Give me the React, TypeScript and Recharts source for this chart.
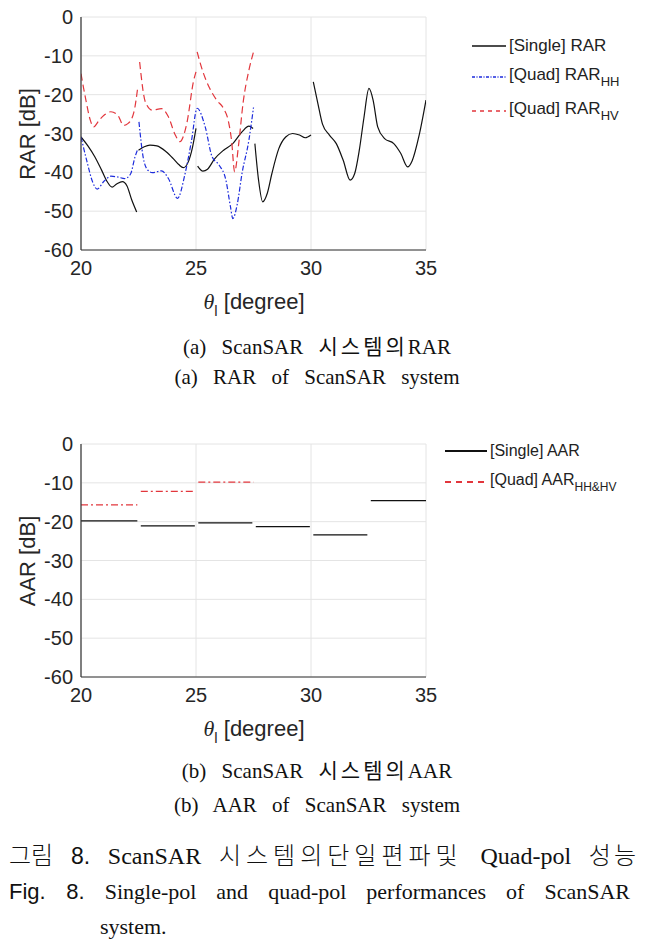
import React from 'react'
import { LineChart, Line, XAxis, YAxis, CartesianGrid } from 'recharts'

// 공통 축 눈금
const thetaTicks = [20, 25, 30, 35]
const dbTicks = [0, -10, -20, -30, -40, -50, -60]

// (a) RAR — null은 구간 단절
const rarSingleTheta = [
  20, 20.3, 20.6, 20.9, 21.15, 21.35, 21.55, 21.8, 22.0, 22.2, 22.42, 22.46,
  22.5, 22.75, 23.0, 23.3, 23.7, 24.0, 24.25, 24.45, 24.65, 24.85, 25.0, 25.03,
  25.07, 25.3, 25.5, 25.8, 26.2, 26.6, 27.0, 27.3, 27.48, 27.52,
  27.56, 27.72, 27.9, 28.1, 28.3, 28.6, 28.9, 29.2, 29.5, 29.75, 30.0, 30.05,
  30.1, 30.3, 30.5, 30.8, 31.1, 31.4, 31.7, 31.9, 32.1, 32.3, 32.52, 32.7, 32.9,
  33.2, 33.6, 33.9, 34.2, 34.4, 34.7, 35.0,
]
const rarSingle = [
  -30.9, -33.2, -36, -39.5, -42.5, -43.8, -43, -42.4, -43.5, -47, -50.2, null,
  -34.3, -33.4, -33, -33.2, -34.7, -36.4, -38, -38.8, -37.5, -33.5, -28.7, null,
  -38.4, -39.7, -39.2, -36.6, -34.3, -32.6, -29.6, -28.1, -28.7, null,
  -32.6, -42, -47.6, -45.4, -40.3, -33.9, -30.9, -30, -30.4, -31.1, -30.4, null,
  -16.7, -22.3, -27.6, -30.4, -32.6, -36.9, -42, -40.3, -34.3, -26, -18.4, -21.4, -28.3,
  -31.3, -32.6, -35.1, -38.6, -37, -30.5, -21.4,
]

const rarHHTheta = [
  20, 20.25, 20.5, 20.7, 21.0, 21.3, 21.6, 21.9, 22.15, 22.35, 22.45, 22.48,
  22.52, 22.7, 22.9, 23.1, 23.5, 23.8, 24.2, 24.5, 24.8, 25.05, 25.4, 25.7,
  26.0, 26.3, 26.5, 26.6, 26.8, 27.0, 27.3, 27.5,
]
const rarHH = [
  -30.9, -37, -42.4, -44.3, -42.3, -41, -41.2, -41.6, -40.5, -36, -34.3, null,
  -27, -36, -39.4, -40.1, -39.6, -41.6, -46.7, -41, -32, -23.5, -28.3, -36,
  -38.1, -42, -48.9, -51.9, -48, -40.3, -31.7, -23.3,
]

const rarHVTheta = [
  20, 20.2, 20.4, 20.55, 20.8, 21.0, 21.3, 21.6, 21.85, 22.05, 22.3, 22.47, 22.5,
  22.55, 22.8, 23.1, 23.5, 23.8, 24.1, 24.3, 24.6, 24.9, 25.0, 25.02,
  25.05, 25.3, 25.6, 25.9, 26.2, 26.4, 26.55, 26.68, 26.85, 27.05, 27.3, 27.5,
]
const rarHV = [
  -14.6, -21, -26.5, -28.3, -26.5, -25.3, -24.4, -25.3, -27.9, -27.4, -24.5, -18, null,
  -11.6, -21.9, -24, -23.6, -25.7, -30.4, -32.1, -27.4, -16.3, -14.1, null,
  -9, -14.1, -18.4, -21.4, -23.6, -26.6, -32, -39.9, -33, -22, -13.7, -9,
]

// (b) AAR — 빔별 평균값
const aarSingleTheta = [
  20, 22.45, 22.5, 22.6, 24.95, 25, 25.1, 27.45, 27.5, 27.6, 29.95, 30,
  30.1, 32.45, 32.5, 32.6, 35,
]
const aarSingle = [
  -19.8, -19.8, null, -21.1, -21.1, null, -20.3, -20.3, null, -21.3, -21.3, null,
  -23.4, -23.4, null, -14.6, -14.6,
]

const aarQuadTheta = [20, 22.45, 22.5, 22.6, 24.95, 25, 25.1, 27.5]
const aarQuad = [-15.7, -15.7, null, -12.2, -12.2, null, -9.8, -9.8]

const toRows = (theta: number[], db: (number | null)[]) =>
  theta.map((t, i) => ({ t, v: db[i] }))

const SANS = '"Liberation Sans", Arial, sans-serif'
const SERIF = '"Liberation Serif", "Times New Roman", "Noto Sans CJK KR", serif'
const KR = '"Noto Sans CJK KR", sans-serif'
const BLACK = '#111'
const BLUE = '#1c2bdc'
const RED = '#e2363c'

const tickStyle = { fontSize: 20, fill: '#262626', fontFamily: SANS }

function ThetaTitle({ x, y }: { x: number; y: number }) {
  return (
    <text x={x} y={y} textAnchor="middle" fontSize={22} fill="#262626" fontFamily={SANS}>
      <tspan fontFamily={SERIF} fontStyle="italic">θ</tspan>
      <tspan fontSize={15} dy={7}>l</tspan>
      <tspan dy={-7}> [degree]</tspan>
    </text>
  )
}

function YTitle({ x, y, text }: { x: number; y: number; text: string }) {
  return (
    <text
      x={x}
      y={y}
      transform={`rotate(-90 ${x} ${y})`}
      textAnchor="middle"
      dominantBaseline="central"
      fontSize={22}
      fill="#262626"
      fontFamily={SANS}
    >
      {text}
    </text>
  )
}

type LegendItem = { label: string; sub?: string; color: string; dash?: string; width?: number; y: number }

function LegendBox({ items, left, lineLen, fontSize }: { items: LegendItem[]; left: number; lineLen: number; fontSize: number }) {
  return (
    <>
      {items.map((it) => (
        <div
          key={it.label + (it.sub || '')}
          style={{
            position: 'absolute', left, top: it.y - 12, height: 24,
            display: 'flex', alignItems: 'center',
            fontFamily: SANS, fontSize, color: '#222', whiteSpace: 'nowrap',
          }}
        >
          <svg width={lineLen} height={24} style={{ marginRight: 3 }}>
            <line x1={0} y1={12} x2={lineLen} y2={12} stroke={it.color}
              strokeWidth={it.width || 1.6} strokeDasharray={it.dash} />
          </svg>
          <span>
            {it.label}
            {it.sub && <sub style={{ fontSize: fontSize - 4, verticalAlign: -6 }}>{it.sub}</sub>}
          </span>
        </div>
      ))}
    </>
  )
}

function Plot({ top, ytitle, lines }: { top: number; ytitle: string; lines: React.ReactNode }) {
  return (
    <div style={{ position: 'absolute', left: 0, top }}>
      <LineChart width={650} height={325} margin={{ top: 17, right: 224, left: 0, bottom: 0 }}>
        <CartesianGrid stroke="#e4e4e4" strokeWidth={1} />
        <XAxis
          type="number"
          dataKey="t"
          domain={[20, 35]}
          ticks={thetaTicks}
          allowDataOverflow
          height={75}
          tickLine={false}
          tickMargin={5}
          tick={tickStyle}
          axisLine={{ stroke: '#333', strokeWidth: 1.2 }}
        />
        <YAxis
          type="number"
          domain={[-60, 0]}
          ticks={dbTicks}
          allowDataOverflow
          width={81}
          tickLine={false}
          tick={tickStyle}
          axisLine={{ stroke: '#333', strokeWidth: 1.2 }}
        />
        {lines}
        <ThetaTitle x={254} y={309} />
        <YTitle x={27} y={134} text={ytitle} />
      </LineChart>
    </div>
  )
}

export default function App() {
  const lineProps = { dataKey: 'v', dot: false, isAnimationActive: false, connectNulls: false, activeDot: false }

  const rarLines = [
    <Line key="s" {...lineProps} data={toRows(rarSingleTheta, rarSingle)} type="monotone" stroke={BLACK} strokeWidth={1.2} />,
    <Line key="hh" {...lineProps} data={toRows(rarHHTheta, rarHH)} type="monotone" stroke={BLUE} strokeWidth={1.2} strokeDasharray="5 2 1.5 2" />,
    <Line key="hv" {...lineProps} data={toRows(rarHVTheta, rarHV)} type="monotone" stroke={RED} strokeWidth={1.2} strokeDasharray="7 4" />,
  ]
  const aarLines = [
    <Line key="s" {...lineProps} data={toRows(aarSingleTheta, aarSingle)} type="linear" stroke={BLACK} strokeWidth={1.2} />,
    <Line key="q" {...lineProps} data={toRows(aarQuadTheta, aarQuad)} type="linear" stroke={RED} strokeWidth={1.2} strokeDasharray="7 3 2 3" />,
  ]

  const capStyle: React.CSSProperties = {
    position: 'absolute', left: 0, width: 634, textAlign: 'center',
    fontFamily: SERIF, fontSize: 21, color: '#111', wordSpacing: 10, lineHeight: '24px',
  }
  const krCap: React.CSSProperties = { letterSpacing: 3 }
  const figLine: React.CSSProperties = {
    position: 'absolute', left: 9, fontFamily: SERIF, color: '#111',
    textAlign: 'justify', textAlignLast: 'justify', lineHeight: '28px', whiteSpace: 'nowrap',
  }

  return (
    <div style={{ position: 'absolute', left: 0, top: 0, width: 650, height: 948, background: '#fff', overflow: 'hidden' }}>
      <Plot top={0} ytitle="RAR [dB]" lines={rarLines} />
      <LegendBox
        left={472}
        lineLen={34}
        fontSize={17}
        items={[
          { label: '[Single] RAR', color: BLACK, y: 46 },
          { label: '[Quad] RAR', sub: 'HH', color: BLUE, dash: '3 1.5 1 1.5', y: 77 },
          { label: '[Quad] RAR', sub: 'HV', color: RED, dash: '4 4', y: 111 },
        ]}
      />
      <div style={{ ...capStyle, top: 335 }}>(a) ScanSAR <span style={krCap}>시스템의</span>RAR</div>
      <div style={{ ...capStyle, top: 365 }}>(a) RAR of ScanSAR system</div>

      <Plot top={427} ytitle="AAR [dB]" lines={aarLines} />
      <LegendBox
        left={445}
        lineLen={42}
        fontSize={16}
        items={[
          { label: '[Single] AAR', color: BLACK, width: 2.2, y: 451 },
          { label: '[Quad] AAR', sub: 'HH&HV', color: RED, dash: '6 5', width: 2.2, y: 482 },
        ]}
      />
      <div style={{ ...capStyle, top: 759 }}>(b) ScanSAR <span style={krCap}>시스템의</span>AAR</div>
      <div style={{ ...capStyle, top: 793 }}>(b) AAR of ScanSAR system</div>

      <div style={{ ...figLine, top: 840, width: 630, fontSize: 24 }}>
        <span style={{ fontFamily: KR, fontSize: 24, fontWeight: 300 }}>그림</span>{' '}
        <span style={{ fontFamily: SANS, fontSize: 23 }}>8.</span> ScanSAR{' '}
        <span style={{ fontFamily: KR, fontWeight: 300, letterSpacing: 5 }}>시스템의단일편파및</span> Quad-pol{' '}
        <span style={{ fontFamily: KR, fontWeight: 300, letterSpacing: 3 }}>성능</span>
      </div>
      <div style={{ ...figLine, top: 878, width: 621, fontSize: 22 }}>
        <span style={{ fontFamily: SANS }}>Fig. 8.</span> Single-pol and quad-pol performances of ScanSAR
      </div>
      <div style={{ position: 'absolute', left: 100, top: 913, fontFamily: SERIF, fontSize: 22, color: '#111', lineHeight: '28px' }}>
        system.
      </div>
    </div>
  )
}
